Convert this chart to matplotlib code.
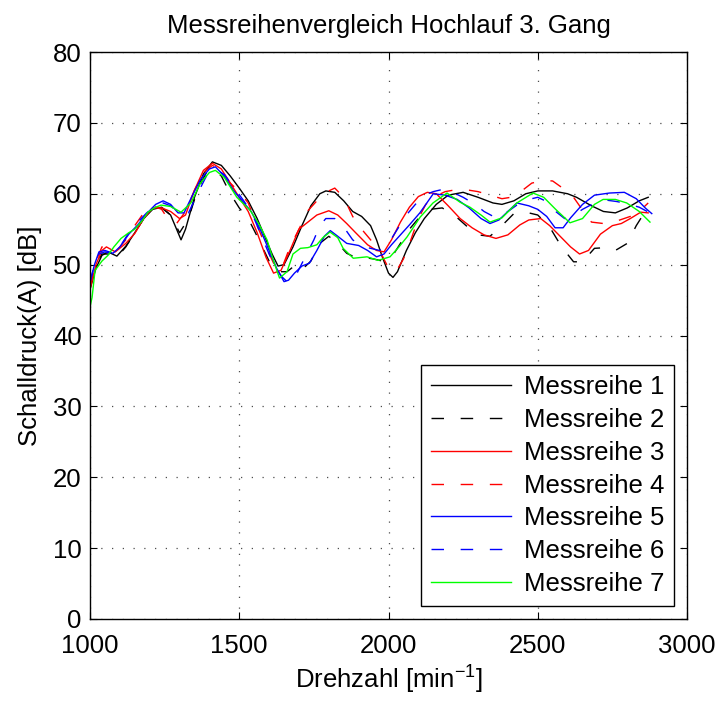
import matplotlib
matplotlib.use("Agg")
import matplotlib.pyplot as plt

plt.rcParams['font.family'] = ['Liberation Sans', 'DejaVu Sans']
plt.rcParams['mathtext.fontset'] = 'custom'
plt.rcParams['mathtext.rm'] = 'Liberation Sans'
plt.rcParams['mathtext.it'] = 'Liberation Sans:italic'
plt.rcParams['mathtext.default'] = 'regular'

title = "Messreihenvergleich Hochlauf 3. Gang"
xlabel = "Drehzahl [min$^{-1}$]"
ylabel = "Schalldruck(A) [dB]"
xticks = [1000, 1500, 2000, 2500, 3000]
yticks = [0, 10, 20, 30, 40, 50, 60, 70, 80]
labels = ["Messreihe 1", "Messreihe 2", "Messreihe 3", "Messreihe 4",
          "Messreihe 5", "Messreihe 6", "Messreihe 7"]

rpm1 = [1000, 1020, 1040, 1060, 1090, 1120, 1150, 1180, 1210, 1240, 1270, 1290, 1305, 1320, 1350, 1380, 1410,
        1440, 1470, 1500, 1530, 1560, 1590, 1610, 1630, 1650, 1680, 1710, 1740, 1770, 1790, 1820, 1850, 1880,
        1910, 1940, 1960, 1980, 2000, 2015, 2030, 2060, 2090, 2120, 2160, 2200, 2250, 2300, 2350, 2380, 2420,
        2460, 2500, 2550, 2600, 2630, 2680, 2720, 2760, 2800, 2840, 2870]
db1 = [46.5, 49.5, 51.3, 51.8, 51.2, 52.6, 54.5, 56.5, 57.8, 58.1, 57.0, 55.0, 53.5, 55.0, 59.5, 62.8, 64.5,
       64.0, 62.5, 60.8, 59.0, 56.5, 53.5, 51.5, 49.8, 50.0, 52.5, 55.5, 58.3, 60.0, 60.4, 60.2, 59.0, 57.5,
       56.8, 55.5, 53.5, 51.0, 48.8, 48.2, 49.0, 52.0, 54.5, 56.5, 58.5, 59.8, 60.2, 59.5, 58.7, 58.5, 59.0,
       60.0, 60.4, 60.4, 60.0, 59.5, 58.3, 57.5, 57.3, 58.0, 59.0, 59.5]

rpm2 = [1000, 1020, 1040, 1060, 1090, 1120, 1150, 1180, 1210, 1240, 1270, 1300, 1330, 1360, 1390, 1410, 1440,
        1470, 1500, 1530, 1560, 1600, 1630, 1660, 1690, 1710, 1740, 1770, 1800, 1830, 1860, 1890, 1920, 1950,
        1980, 2010, 2040, 2070, 2100, 2140, 2180, 2220, 2260, 2300, 2340, 2380, 2420, 2460, 2500, 2540, 2580,
        2620, 2650, 2690, 2730, 2760, 2800, 2830, 2860, 2880]
db2 = [47, 50, 51.5, 51.5, 51, 52.5, 54.5, 56.5, 57.8, 58, 57, 54.5, 56.5, 60.5, 63, 63.5, 62.5,
       60, 58, 56.5, 54, 50.5, 49, 49, 50, 49.3, 50.5, 53, 54, 53, 51.6, 51, 51, 50.8,
       50.5, 51, 53, 55, 56.5, 57.8, 58, 57, 55.5, 54.2, 54, 55.5, 57.2, 57.4, 57, 55.3, 52.5,
       50.4, 50.4, 52.3, 52.4, 52, 53, 55.5, 57.5, 58]

rpm3 = [1000, 1020, 1040, 1055, 1085, 1120, 1150, 1180, 1210, 1240, 1270, 1300, 1320, 1350, 1380, 1410, 1440,
        1470, 1500, 1530, 1560, 1590, 1615, 1640, 1670, 1700, 1730, 1760, 1800, 1830, 1860, 1890, 1930, 1960,
        1985, 2010, 2040, 2070, 2100, 2130, 2160, 2200, 2240, 2280, 2320, 2360, 2400, 2440, 2470, 2510, 2540,
        2575, 2610, 2640, 2670, 2710, 2750, 2780, 2810, 2845, 2870]
db3 = [46.5, 50, 52, 52.5, 51.8, 53, 54.4, 56.5, 58, 58, 57.5, 56.5, 57, 60.5, 63.3, 64.3, 63.5,
       61.5, 59.5, 57.5, 54.5, 51, 48.8, 49.2, 52, 55, 56, 57, 57.6, 57, 55.8, 54.5, 52.8, 52,
       51.8, 53.5, 56, 58.1, 59.6, 60.2, 60, 58.3, 56.5, 55.2, 54.2, 53.7, 54.2, 55.6, 56.3, 56.5, 55.5,
       54, 52.5, 51.5, 52, 54.3, 55.5, 55.8, 56.5, 57.4, 57.3]

rpm4 = [1000, 1020, 1040, 1060, 1090, 1120, 1150, 1180, 1210, 1240, 1265, 1290, 1320, 1350, 1380, 1410, 1440,
        1470, 1500, 1530, 1560, 1590, 1615, 1640, 1670, 1700, 1730, 1760, 1790, 1820, 1850, 1880, 1910, 1940,
        1970, 2000, 2025, 2050, 2075, 2100, 2125, 2150, 2190, 2230, 2270, 2300, 2340, 2380, 2410, 2440, 2480,
        2520, 2550, 2580, 2615, 2650, 2680, 2720, 2750, 2775, 2810, 2840, 2870]
db4 = [47, 50.5, 52.5, 52.5, 52, 53.5, 55.5, 57.3, 58.3, 57.8, 56.2, 55.8, 57.5, 60.5, 63, 64, 63.3,
       61.5, 60.3, 58.7, 55.5, 52.5, 50.2, 49.2, 52.5, 55, 57.6, 59, 60.2, 60.8, 59.5, 56.8, 55, 53.5,
       52, 49.5, 49, 50.8, 53.5, 56.5, 58.5, 59.5, 60.3, 60.6, 60.5, 60.3, 59.8, 59.3, 59.5, 60.2, 61.5,
       61.9, 61.8, 60.9, 59.8, 57.7, 56, 55.8, 55.9, 56.3, 56.8, 57.5, 58.7]

rpm5 = [1000, 1015, 1030, 1050, 1077, 1100, 1130, 1160, 1190, 1220, 1245, 1270, 1295, 1315, 1340, 1370, 1400,
        1420, 1450, 1480, 1510, 1540, 1570, 1600, 1625, 1650, 1665, 1685, 1710, 1735, 1760, 1785, 1805, 1830,
        1860, 1900, 1930, 1960, 1985, 2010, 2040, 2070, 2105, 2150, 2190, 2230, 2270, 2310, 2340, 2370, 2400,
        2430, 2470, 2500, 2530, 2558, 2585, 2610, 2650, 2690, 2740, 2790, 2830, 2860, 2882]
db5 = [47.5, 50, 51.8, 52, 51.6, 52.5, 54.3, 55.6, 57.2, 58.5, 59, 58.5, 57.3, 57.3, 59.5, 62, 63.5,
       63.8, 62.5, 60.5, 59, 57.5, 55, 52, 49.5, 47.6, 47.8, 48.8, 49.8, 50.2, 52, 54, 54.8, 54,
       53, 52.7, 52, 51.1, 51.5, 52.8, 54.2, 55.6, 57.3, 60, 59.8, 59.2, 58, 56.5, 55.8, 56.3, 57.5,
       58.7, 58.3, 57.8, 56.8, 55.2, 55.2, 56.6, 58.5, 59.8, 60.1, 60.2, 59.3, 58, 57.2]

rpm6 = [1000, 1015, 1030, 1050, 1077, 1100, 1130, 1160, 1190, 1220, 1245, 1270, 1300, 1330, 1360, 1390, 1420,
        1450, 1480, 1510, 1540, 1570, 1600, 1625, 1645, 1665, 1690, 1720, 1750, 1770, 1790, 1820, 1850, 1880,
        1910, 1940, 1970, 2000, 2030, 2060, 2090, 2120, 2150, 2180, 2215, 2250, 2290, 2320, 2360, 2390, 2430,
        2470, 2500, 2530, 2560, 2590, 2615, 2650, 2690, 2730, 2765, 2800, 2840, 2880]
db6 = [47.5, 50, 51.5, 51.8, 51.5, 52.5, 54.5, 56, 57.3, 58.3, 58.7, 58.3, 57.2, 57.3, 60, 62.5, 63.5,
       62.7, 61, 59.3, 57.5, 54.5, 51.5, 49.3, 48.2, 47.4, 48.5, 51, 53.5, 55.5, 56.5, 56.5, 55.3, 53.5,
       52.6, 52.3, 52, 53, 55, 57, 58.5, 59.8, 60.3, 60.6, 60.2, 59.5, 58.5, 57.5, 56.6, 57.2, 58.4,
       59.2, 59.5, 58.9, 57.5, 56.5, 56.8, 57.8, 58.7, 59.1, 58.9, 58.6, 58.1, 57.2]

rpm7 = [1000, 1007, 1017, 1040, 1060, 1080, 1104, 1130, 1150, 1175, 1194, 1215, 1238, 1270, 1305, 1338, 1370,
        1400, 1420, 1450, 1492, 1536, 1565, 1593, 1615, 1635, 1660, 1680, 1705, 1730, 1760, 1780, 1804, 1830,
        1848, 1882, 1928, 1965, 2005, 2035, 2062, 2106, 2149, 2196, 2240, 2273, 2310, 2340, 2380, 2430, 2484,
        2520, 2560, 2608, 2650, 2690, 2719, 2760, 2798, 2840, 2876]
db7 = [44, 45.4, 49.2, 50.5, 51.3, 52.5, 53.7, 54.5, 55, 56.2, 57.4, 58, 58.4, 58.2, 57.4, 58.7, 61.5,
       63, 63.3, 62.3, 59.5, 57.7, 55.8, 53.5, 50.5, 48.1, 49, 51.5, 52.3, 52.4, 52.8, 53.8, 54.6, 53.8,
       52.3, 50.9, 51.1, 50.6, 51.1, 52.5, 53.9, 56.7, 58.7, 60.1, 58.8, 58.1, 57, 56, 56.6, 58.7, 60.1,
       59.5, 57.8, 55.9, 56.5, 58.5, 59.2, 59.2, 58.7, 57.5, 56]

series = [(rpm1, db1), (rpm2, db2), (rpm3, db3), (rpm4, db4), (rpm5, db5), (rpm6, db6), (rpm7, db7)]
colors = ['#000000', '#000000', '#ff0000', '#ff0000', '#0000ff', '#0000ff', '#00ff00']
dashed = [False, True, False, True, False, True, False]

fig = plt.figure(figsize=(7.22, 7.01), dpi=100)
ax = fig.add_axes([90/722, 82/701, 597/722, 567/701])

for (x, y), c, d, lab in zip(series, colors, dashed, labels):
    if d:
        ax.plot(x, y, color=c, lw=1.0, linestyle=(0, (9, 12)), label=lab)
    else:
        ax.plot(x, y, color=c, lw=1.0, linestyle='-', label=lab)

ax.set_xlim(1000, 3000)
ax.set_ylim(0, 80)
ax.set_xticks(xticks)
ax.set_yticks(yticks)
ax.tick_params(direction='in', top=True, right=True, length=5, width=0.8,
               labelsize=18.5, colors='black')
ax.tick_params(axis='x', pad=11)
ax.tick_params(axis='y', pad=6)
ax.grid(True, color='0.3', linestyle=(0, (1, 7.6)), linewidth=0.9)
for s in ax.spines.values():
    s.set_linewidth(1.0)
    s.set_color('black')

ax.set_title(title, fontsize=18.5, pad=14)
ax.set_xlabel(xlabel, fontsize=18.5, labelpad=4)
ax.set_ylabel(ylabel, fontsize=18.5, labelpad=8)

leg = ax.legend(loc='lower right', fontsize=18.5, handlelength=3.1, labelspacing=0.34,
                borderaxespad=0.5, fancybox=False, framealpha=1, edgecolor='black',
                handletextpad=0.5, borderpad=0.4)
leg.get_frame().set_linewidth(1.0)

fig.savefig("out.png", dpi=100)
